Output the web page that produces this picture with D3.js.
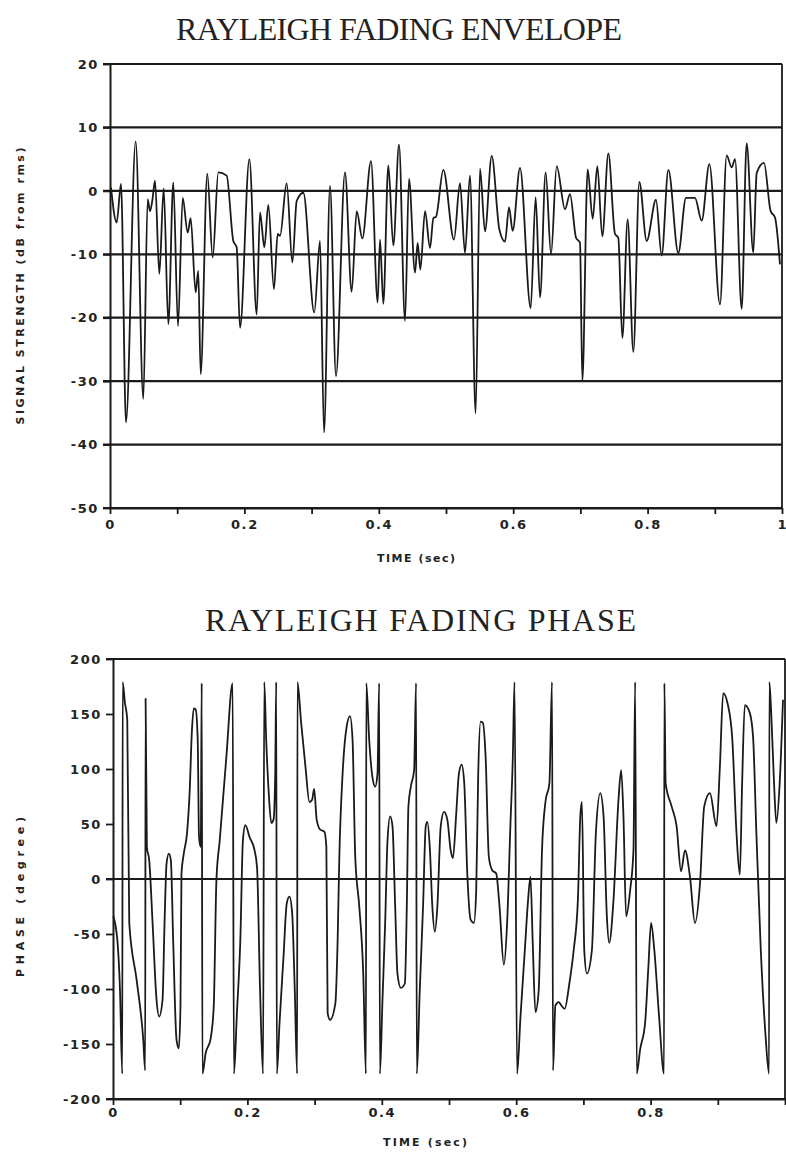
<!DOCTYPE html>
<html>
<head>
<meta charset="utf-8">
<script src="https://cdn.jsdelivr.net/npm/d3@7"></script>
<style>
  body { margin: 0; background: #fff; }
  .tick text { font-family: "DejaVu Sans", sans-serif; font-weight: bold; font-size: 13px; letter-spacing: 1.6px; fill: #222; }
  .title { font-family: "Liberation Serif", serif; font-size: 32px; fill: #222; }
  .label { font-family: "DejaVu Sans", sans-serif; font-weight: bold; font-size: 11px; fill: #222; }
</style>
</head>
<body>
<div id="chart"></div>
<script>
// envelope (dB from rms)
const envTime = [0.0015, 0.0099, 0.0164, 0.0238, 0.0382, 0.0496, 0.0561, 0.0595, 0.063, 0.067, 0.0734, 0.0799, 0.0868, 0.0942, 0.1012, 0.1082, 0.1156, 0.12, 0.1275, 0.1314, 0.1349, 0.1448, 0.1528, 0.1612, 0.1736, 0.1835, 0.1885, 0.1935, 0.2074, 0.2183, 0.2232, 0.2297, 0.2356, 0.244, 0.2495, 0.253, 0.2629, 0.2714, 0.2778, 0.2877, 0.304, 0.3125, 0.3185, 0.3274, 0.3363,
  0.3497, 0.3596, 0.3671, 0.3755, 0.3884, 0.3983, 0.4018, 0.4067, 0.4142, 0.4216, 0.4301, 0.439, 0.4449, 0.4539, 0.4578, 0.4618, 0.4688, 0.4762, 0.4812, 0.4851, 0.496, 0.5119, 0.5208, 0.5283, 0.5357, 0.5441, 0.5506, 0.558, 0.568, 0.5794, 0.5878, 0.5938, 0.5992, 0.6101, 0.626, 0.6334, 0.6399, 0.6483, 0.6563, 0.6647, 0.6771,
  0.6845, 0.6935, 0.6994, 0.7029, 0.7108, 0.7183, 0.7252, 0.7326, 0.7416, 0.7515, 0.7564, 0.7624, 0.7703, 0.7788, 0.7877, 0.7986, 0.8125, 0.8209, 0.8309, 0.8457, 0.8571, 0.8705, 0.8805, 0.8919, 0.9077, 0.9177, 0.9251, 0.9301, 0.94, 0.9474, 0.9573, 0.9623, 0.9732, 0.9831, 0.9896, 0.997];
const envDb = [0.5, -5.0, 1.1, -36.5, 7.8, -32.8, -1.3, -3.2, -1.5, 1.6, -13.1, 0.4, -21.0, 1.3, -21.3, -1.1, -6.6, -4.3, -16.0, -12.6, -28.9, 2.7, -10.5, 2.9, 2.4, -7.9, -8.9, -21.6, 5.0, -19.5, -3.4, -8.9, -2.2, -15.5, -6.8, -7.1, 1.2, -11.3, -1.6, -0.3, -19.2, -7.9, -38.1, 0.8, -29.2,
  2.9, -15.9, -3.2, -7.5, 4.7, -17.6, -7.7, -17.8, 4.0, -8.6, 7.3, -20.5, 1.9, -12.9, -8.2, -12.4, -3.2, -9.0, -4.3, -4.1, 3.3, -7.7, 1.2, -9.8, 2.4, -35.1, 3.5, -6.4, 5.5, -6.1, -8.0, -2.6, -6.3, 3.6, -18.5, -1.0, -16.8, 2.9, -10.0, 3.9, -2.9,
  -0.5, -7.4, -8.2, -30.0, 3.4, -4.4, 3.9, -7.2, 5.9, -6.8, -7.4, -23.2, -4.5, -25.4, 1.4, -7.9, -1.4, -10.2, 3.3, -9.8, -1.1, -1.1, -4.7, 4.2, -17.9, 5.6, 3.7, 5.0, -18.6, 7.5, -9.7, 2.8, 4.4, -3.2, -4.2, -11.6];

// phase (degree), wraps at +/-180
const phaseTime = [0.0004, 0.0064, 0.0104, 0.0138, 0.0144, 0.0178, 0.0212, 0.0242, 0.0352, 0.045, 0.0479, 0.0485, 0.0504, 0.0539, 0.0589, 0.0648, 0.0687, 0.0737, 0.0767, 0.0797, 0.0831, 0.0861, 0.0895, 0.0945, 0.0979, 0.1004, 0.1019, 0.1053, 0.1102, 0.1142, 0.1172, 0.1202, 0.1231, 0.1261, 0.128, 0.1306, 0.132, 0.1331, 0.138, 0.145, 0.1499, 0.1539, 0.1588, 0.1687, 0.178, 0.18, 0.1844, 0.1895, 0.1933, 0.1969, 0.2033, 0.2107, 0.2144, 0.2188, 0.2233,
  0.2251, 0.228, 0.2315, 0.2355, 0.2389, 0.2414, 0.2429, 0.2438, 0.2478, 0.2537, 0.2586, 0.2626, 0.2666, 0.2705, 0.274, 0.2745, 0.28, 0.2864, 0.2923, 0.2963, 0.2993, 0.3031, 0.3082, 0.3145, 0.3175, 0.3194, 0.323, 0.3309, 0.3343, 0.3368, 0.3417, 0.3476, 0.3527, 0.3565, 0.3605, 0.3665, 0.3724, 0.3764, 0.3769, 0.3813, 0.3862, 0.3902, 0.3936, 0.3961, 0.3972, 0.401, 0.405, 0.4085, 0.4125, 0.4159, 0.4199, 0.4233, 0.4283, 0.4343, 0.4372, 0.4396, 0.4432, 0.4481, 0.451, 0.4521, 0.4565, 0.4614, 0.4654, 0.4678, 0.4714, 0.4752, 0.4788, 0.4827, 0.4877, 0.4926, 0.4975, 0.5025, 0.5059, 0.5108, 0.5148, 0.5188, 0.5227, 0.5272, 0.5322, 0.5371, 0.5405, 0.5435, 0.547, 0.5504, 0.5545, 0.5593, 0.5643, 0.5702, 0.5752, 0.5816, 0.5865, 0.5915, 0.595, 0.5975,
  0.6013, 0.6064, 0.6128, 0.6177, 0.6212, 0.6246, 0.6286, 0.6335, 0.6384, 0.6435, 0.6494, 0.6533, 0.6548, 0.6583, 0.6632, 0.6672, 0.6721, 0.6791, 0.6855, 0.6918, 0.6954, 0.6978, 0.7013, 0.7052, 0.7126, 0.7186, 0.7251, 0.73, 0.7349, 0.7384, 0.7448, 0.7522, 0.7562, 0.7596, 0.7636, 0.7696, 0.7745, 0.777, 0.7794, 0.7844, 0.7918, 0.7967, 0.8007, 0.8056, 0.8126, 0.82, 0.8205, 0.8224, 0.8313, 0.8387, 0.8453, 0.8512, 0.8586, 0.866, 0.8735, 0.8798, 0.8883, 0.8981, 0.9031, 0.908, 0.9144, 0.9214, 0.9278, 0.9328, 0.9362, 0.9402, 0.9476, 0.9525, 0.9574, 0.964, 0.9708, 0.9763, 0.9767, 0.9797, 0.9837, 0.9871, 0.9921, 0.997];
const phaseDeg = [-34, -55, -101, -177, 179, 160, 145, -40, -92, -146, -174, 164, 29, 17, -40, -110, -125, -110, -40, 14, 23, 17, -55, -146, -154, -116, 5, 23, 42, 81, 132, 155, 154, 126, 38, 29, 178, -177, -158, -146, -116, -1, 35, 111, 178, -177, -122, -55, 35, 49, 38, 26, 10, -100, -177,
  179, 126, 81, 51, 54, 96, 179, -177, -131, -71, -22, -16, -31, -101, -177, 179, 142, 102, 70, 72, 82, 54, 45, 43, 29, -122, -128, -113, -55, 20, 96, 138, 148, 126, 20, -25, -86, -177, 178, 126, 92, 84, 96, 178, -177, -110, -40, 35, 57, 48, -25, -86, -99, -95, -25, 66, 84, 99, 178, -177, -101, -25, 48, 52, 29, -25, -48, -25, 48, 61, 54, 26, 19, 60, 96, 104, 87, 5, -37, -40, -10, 96, 143, 142, 111, 20, 8, 5, -25, -78, -40, 51, 111, 179,
  -177, -125, -65, -19, 2, -58, -121, -101, 26, 70, 87, 179, -174, -115, -112, -115, -118, -95, -65, -19, 57, 70, -65, -86, -65, 42, 78, 57, -34, -58, -19, 72, 99, 57, -34, -10, 26, 179, -177, -155, -131, -80, -40, -65, -125, -177, 178, 87, 66, 48, 7, 26, 2, -40, -4, 66, 78, 48, 102, 169, 160, 129, 42, 4, 87, 158, 151, 129, 42, -65, -140, -177, 179, 148, 87, 51, 87, 163];

const timeTicks = [0, 0.1, 0.2, 0.3, 0.4, 0.5, 0.6, 0.7, 0.8, 0.9, 1];
const envTicks = [20, 10, 0, -10, -20, -30, -40, -50];
const phaseTicks = [200, 150, 100, 50, 0, -50, -100, -150, -200];

const ink = "#1a1a1a";
const W = 786, H = 1162;

const svg = d3.select("#chart").append("svg")
  .attr("width", W)
  .attr("height", H);

function drawPanel(cfg) {
  const x = d3.scaleLinear().domain([0, 1]).range([cfg.left, cfg.right]);
  const y = d3.scaleLinear().domain(cfg.yDomain).range([cfg.bottom, cfg.top]);
  const g = svg.append("g");

  // horizontal lines, they run a little left of the axis like ticks
  g.selectAll("line.grid")
    .data(cfg.grid)
    .join("line")
    .attr("class", "grid")
    .attr("x1", cfg.left - 7)
    .attr("x2", cfg.right)
    .attr("y1", (d) => y(d))
    .attr("y2", (d) => y(d))
    .style("stroke", ink)
    .style("stroke-width", 2.2);

  const yAxis = g.append("g")
    .attr("transform", `translate(${cfg.left},0)`)
    .call(d3.axisLeft(y).tickValues(cfg.yTicks).tickSize(7).tickSizeOuter(0).tickPadding(4)
      .tickFormat((d) => String(d)));

  const xAxis = g.append("g")
    .attr("transform", `translate(0,${cfg.bottom})`)
    .call(d3.axisBottom(x).tickValues(timeTicks).tickSize(6).tickSizeOuter(0).tickPadding(cfg.xPad)
      .tickFormat((d) => {
        const k = Math.round(d * 10);
        if (k % 2 !== 0 || k > cfg.lastLabel) return "";
        return d3.format("~g")(d);
      }));

  // the "1" sits on the page edge, keep it inside
  xAxis.selectAll(".tick text")
    .filter((d) => d === 1)
    .attr("text-anchor", "end")
    .attr("dx", 4)
    .style("letter-spacing", "0px");

  [yAxis, xAxis].forEach((a) => {
    a.select(".domain").style("stroke", ink).style("stroke-width", 2);
    a.selectAll(".tick line").style("stroke", ink).style("stroke-width", 1.8);
  });

  // right border
  g.append("line")
    .attr("x1", cfg.right).attr("x2", cfg.right)
    .attr("y1", cfg.top).attr("y2", cfg.bottom)
    .style("stroke", ink).style("stroke-width", 1.8);

  const pts = d3.zip(cfg.t, cfg.v);
  const line = d3.line()
    .x((d) => x(d[0]))
    .y((d) => y(d[1]))
    .curve(d3.curveMonotoneX);

  g.append("path")
    .datum(pts)
    .attr("d", line)
    .style("fill", "none")
    .style("stroke", ink)
    .style("stroke-width", 1.8)
    .style("stroke-linejoin", "round");

  // titles and axis labels
  g.append("text")
    .attr("class", "title")
    .attr("x", cfg.titleX)
    .attr("y", cfg.titleY)
    .attr("textLength", cfg.titleLen)
    .attr("lengthAdjust", "spacing")
    .text(cfg.title);

  g.append("text")
    .attr("class", "label")
    .attr("x", cfg.xLabelX)
    .attr("y", cfg.xLabelY)
    .attr("text-anchor", "middle")
    .attr("textLength", cfg.xLabelLen)
    .attr("lengthAdjust", "spacing")
    .text("TIME (sec)");

  g.append("text")
    .attr("class", "label")
    .attr("transform", `translate(24,${cfg.yLabelY}) rotate(-90)`)
    .attr("text-anchor", "middle")
    .attr("textLength", cfg.yLabelLen)
    .attr("lengthAdjust", "spacing")
    .text(cfg.yLabel);
}

drawPanel({
  left: 110, right: 782, top: 64, bottom: 508,
  yDomain: [-50, 20], yTicks: envTicks, grid: envTicks,
  t: envTime, v: envDb, xPad: 6, lastLabel: 10,
  title: "RAYLEIGH FADING ENVELOPE", titleX: 176, titleY: 40, titleLen: 446,
  xLabelX: 416, xLabelY: 562, xLabelLen: 78,
  yLabel: "SIGNAL STRENGTH (dB from rms)", yLabelY: 286, yLabelLen: 277
});

drawPanel({
  left: 113, right: 785, top: 659, bottom: 1099,
  yDomain: [-200, 200], yTicks: phaseTicks, grid: [200, 0, -200],
  t: phaseTime, v: phaseDeg, xPad: 3, lastLabel: 8,
  title: "RAYLEIGH FADING PHASE", titleX: 205, titleY: 631, titleLen: 431,
  xLabelX: 425, xLabelY: 1146, xLabelLen: 84,
  yLabel: "PHASE (degree)", yLabelY: 897, yLabelLen: 160
});
</script>
</body>
</html>
